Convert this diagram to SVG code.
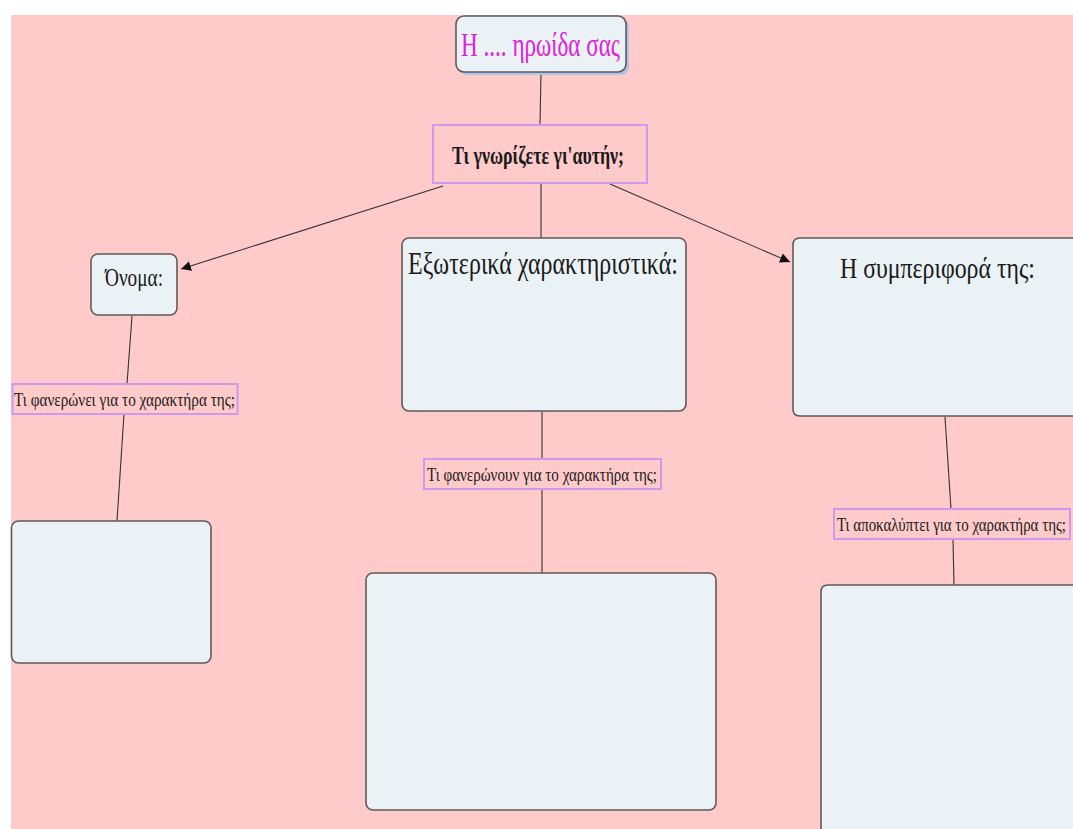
<svg xmlns="http://www.w3.org/2000/svg" width="1073" height="829" viewBox="0 0 1073 829">
<style>
.node{fill:#eaf2f5;stroke:#5f5a5a;stroke-width:1.6}
.fillonly{fill:#eaf2f5;stroke:none}
.edge{fill:none;stroke:#5f5a5a;stroke-width:1.6}
.lbl{fill:#ffcaca;stroke:#cc99ee;stroke-width:2}
.t{font-family:"Liberation Serif","Times New Roman",serif;fill:#1a1a1a}
.conn line{stroke:#333;stroke-width:1.1}
</style>
<defs>
<marker id="arr" viewBox="0 0 10 10" refX="10" refY="5" markerWidth="10" markerHeight="10" markerUnits="userSpaceOnUse" orient="auto">
<path d="M0,0 L10,5 L0,10 z" fill="#111"/>
</marker>
</defs>
<rect x="0" y="0" width="1073" height="829" fill="#ffffff"/>
<rect x="11" y="15" width="1062" height="814" fill="#ffcaca"/>
<g class="conn">
<line x1="541" y1="72" x2="540" y2="125"/>
<line x1="443" y1="186" x2="181" y2="269" marker-end="url(#arr)"/>
<line x1="541" y1="184" x2="541" y2="238"/>
<line x1="610" y1="184" x2="790" y2="262" marker-end="url(#arr)"/>
<line x1="132" y1="316" x2="127" y2="384"/>
<line x1="124" y1="414" x2="117" y2="521"/>
<line x1="542" y1="412" x2="542" y2="459"/>
<line x1="542" y1="489" x2="542" y2="573"/>
<line x1="945" y1="417" x2="951" y2="509"/>
<line x1="953" y1="539" x2="954" y2="585"/>
</g>
<g id="title">
<rect x="459" y="19" width="170" height="56" rx="8" fill="#a9c6ee"/>
<rect x="456" y="16" width="170" height="56" rx="8" class="node"/>
<text x="461" y="56" class="t" font-size="33" style="fill:#dd22dd" textLength="159" lengthAdjust="spacingAndGlyphs">Η .... ηρωίδα σας</text>
</g>
<g id="q-main">
<rect x="433" y="125" width="214" height="58" class="lbl"/>
<text x="452" y="164" class="t" font-size="25" font-weight="bold" textLength="172" lengthAdjust="spacingAndGlyphs">Τι γνωρίζετε γι'αυτήν;</text>
</g>
<g id="name">
<rect x="91" y="254" width="86" height="61" rx="7" class="node"/>
<text x="134" y="286" class="t" font-size="25" text-anchor="middle" textLength="58" lengthAdjust="spacingAndGlyphs">Όνομα:</text>
</g>
<g id="q-name">
<rect x="12.5" y="384" width="225" height="30" class="lbl"/>
<text x="14" y="406" class="t" font-size="19" textLength="221" lengthAdjust="spacingAndGlyphs">Τι φανερώνει για το χαρακτήρα της;</text>
</g>
<g id="name-answer">
<rect x="11.5" y="521" width="199.5" height="142" rx="7" class="node"/>
</g>
<g id="appearance">
<rect x="402" y="238" width="284" height="173" rx="7" class="node"/>
<text x="408" y="274" class="t" font-size="31" textLength="270" lengthAdjust="spacingAndGlyphs">Εξωτερικά χαρακτηριστικά:</text>
</g>
<g id="q-appearance">
<rect x="424" y="459" width="237" height="30" class="lbl"/>
<text x="427" y="481" class="t" font-size="19" textLength="230" lengthAdjust="spacingAndGlyphs">Τι φανερώνουν για το χαρακτήρα της;</text>
</g>
<g id="appearance-answer">
<rect x="366" y="573" width="350" height="237" rx="7" class="node"/>
</g>
<g id="behaviour">
<path d="M1073,238 H800 Q793,238 793,245 V409 Q793,416 800,416 H1073 Z" class="fillonly"/>
<path d="M1073,238 H800 Q793,238 793,245 V409 Q793,416 800,416 H1073" class="edge"/>
<text transform="translate(840,278) scale(1,1.2)" x="0" y="0" class="t" font-size="24" textLength="195" lengthAdjust="spacingAndGlyphs">Η συμπεριφορά της:</text>
</g>
<g id="q-behaviour">
<rect x="834" y="509" width="236" height="30" class="lbl"/>
<text transform="translate(837,531) scale(1,1.4)" x="0" y="0" class="t" font-size="13.5" textLength="229" lengthAdjust="spacingAndGlyphs">Τι αποκαλύπτει για το χαρακτήρα της;</text>
</g>
<g id="behaviour-answer">
<path d="M1073,585 H828 Q821,585 821,592 V829 H1073 Z" class="fillonly"/>
<path d="M1073,585 H828 Q821,585 821,592 V829" class="edge"/>
</g>
</svg>
